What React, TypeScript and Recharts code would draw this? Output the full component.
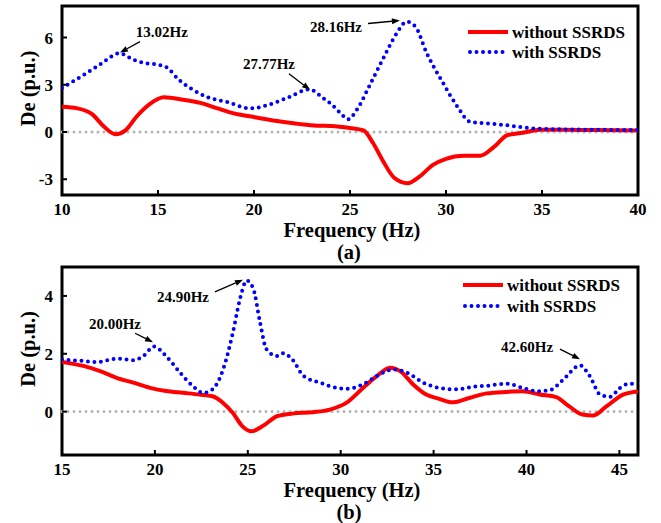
import React from 'react';
import { LineChart, Line, XAxis, YAxis, ReferenceLine, ReferenceArea, ReferenceDot } from 'recharts';

const FONT = '"Liberation Serif", "Times New Roman", Times, serif';

// ---- Panel (a) data ----
const aRedFreq = [10, 10.8, 11.6, 12.1, 12.8, 13.3, 13.9, 14.6, 15.3, 16.3, 17.2, 18.1, 18.9, 20, 21.2, 22.4, 23.3, 24, 25, 25.7, 26.2, 26.7, 27.3, 28, 28.6, 29.3, 30, 30.9, 31.8, 32.5, 33.2, 34, 34.9, 36.1, 37.9, 40];
const aRedDe = [1.6, 1.5, 1.1, 0.45, -0.15, 0.1, 1.0, 1.8, 2.2, 2.05, 1.85, 1.5, 1.2, 0.95, 0.7, 0.5, 0.4, 0.38, 0.25, 0.1, -0.7, -1.8, -2.9, -3.25, -2.85, -2.1, -1.7, -1.5, -1.5, -0.95, -0.2, -0.05, 0.15, 0.15, 0.12, 0.1];
const aBlueFreq = [10, 11.1, 12, 13, 13.7, 14.2, 14.9, 15.45, 16.1, 16.8, 17.5, 18.6, 19.8, 20.7, 21.7, 22.9, 23.6, 24, 24.5, 24.9, 25.35, 26, 26.7, 27.4, 27.95, 28.4, 29, 29.85, 30.6, 31.25, 32.1, 33, 34, 34.9, 40];
const aBlueDe = [2.8, 3.6, 4.3, 5.0, 4.6, 4.4, 4.3, 4.1, 3.3, 2.7, 2.25, 1.9, 1.5, 1.7, 2.15, 2.7, 2.15, 1.8, 1.2, 0.8, 1.4, 2.9, 4.6, 6.2, 7.0, 6.7, 5.0, 3.1, 1.6, 0.65, 0.55, 0.45, 0.3, 0.2, 0.12];
const aXTicks = [10, 15, 20, 25, 30, 35, 40];
const aYTicks = [-3, 0, 3, 6];
const aXDomain = [10, 40];
const aYDomain = [-4, 8];
const aNotes = [
  { text: '13.02Hz', tx: 15.2, ty: 6.32, fx: 14.06, fy: 5.74, ex: 13.02, ey: 5.04 },
  { text: '27.77Hz', tx: 20.78, ty: 4.34, fx: 21.82, fy: 3.7, ex: 22.92, ey: 2.68 },
  { text: '28.16Hz', tx: 24.27, ty: 6.64, fx: 25.94, fy: 6.89, ex: 27.6, ey: 7.08 },
];

// ---- Panel (b) data ----
const bRedFreq = [15, 16.15, 17.05, 17.94, 18.84, 19.74, 20.6, 21.5, 22.4, 23.1, 23.67, 24.2, 24.7, 25.2, 25.8, 26.57, 27.4, 28.5, 29.42, 30.3, 31.2, 31.94, 32.65, 33.2, 33.9, 34.6, 35.3, 36.0, 36.96, 37.86, 38.9, 39.8, 40.7, 41.6, 42.3, 43.0, 43.6, 44.3, 45.2, 46];
const bRedDe = [1.72, 1.58, 1.4, 1.17, 1.0, 0.82, 0.71, 0.65, 0.59, 0.53, 0.3, -0.05, -0.5, -0.68, -0.5, -0.16, -0.07, -0.02, 0.07, 0.3, 0.82, 1.23, 1.52, 1.4, 0.94, 0.59, 0.44, 0.32, 0.48, 0.63, 0.68, 0.7, 0.59, 0.5, 0.18, -0.1, -0.13, 0.18, 0.59, 0.7];
const bBlueFreq = [15, 16.15, 16.87, 17.94, 18.84, 19.38, 19.95, 20.6, 21.35, 22.05, 22.6, 23.1, 23.67, 24.2, 24.58, 24.94, 25.3, 25.66, 26.0, 26.57, 26.9, 27.4, 28.0, 28.9, 29.42, 30.3, 31.2, 31.94, 32.83, 33.55, 34.45, 35.3, 36.2, 37.14, 38.0, 38.9, 39.8, 40.55, 41.26, 41.98, 42.88, 43.4, 43.96, 44.5, 45.03, 45.57, 46];
const bBlueDe = [1.8, 1.75, 1.71, 1.83, 1.78, 1.92, 2.25, 1.92, 1.35, 0.88, 0.65, 0.77, 1.46, 2.74, 3.9, 4.53, 4.24, 3.08, 2.16, 1.92, 2.02, 1.8, 1.23, 1.0, 0.88, 0.79, 0.94, 1.23, 1.46, 1.35, 1.0, 0.82, 0.77, 0.86, 0.9, 0.97, 0.82, 0.7, 0.74, 1.11, 1.6, 1.23, 0.59, 0.51, 0.82, 0.97, 0.94];
const bXTicks = [15, 20, 25, 30, 35, 40, 45];
const bYTicks = [0, 2, 4];
const bXDomain = [15, 46];
const bYDomain = [-1.5, 5];
const bNotes = [
  { text: '20.00Hz', tx: 17.85, ty: 3.03, fx: 18.93, fy: 2.71, ex: 19.9, ey: 2.4 },
  { text: '24.90Hz', tx: 21.51, ty: 3.97, fx: 23.23, fy: 4.14, ex: 24.74, ey: 4.56 },
  { text: '42.60Hz', tx: 40.03, ty: 2.23, fx: 41.8, fy: 2.16, ex: 42.88, ey: 1.81 },
];

const seriesNames = ['without SSRDS', 'with SSRDS'];

const zip = (xs: number[], ys: number[]) => xs.map((f, i) => ({ f, v: ys[i] }));

const Arrow = (p: any) => {
  const { x1, y1, x2, y2 } = p;
  const dx = x2 - x1;
  const dy = y2 - y1;
  const len = Math.sqrt(dx * dx + dy * dy) || 1;
  const ux = dx / len;
  const uy = dy / len;
  const hl = 8;
  const hw = 3;
  const bx = x2 - ux * hl;
  const by = y2 - uy * hl;
  return (
    <g>
      <line x1={x1} y1={y1} x2={bx} y2={by} stroke="#000" strokeWidth={1.3} />
      <polygon
        points={`${x2},${y2} ${bx - uy * hw},${by + ux * hw} ${bx + uy * hw},${by - ux * hw}`}
        fill="#000"
      />
    </g>
  );
};

const tickStyle = { fontSize: 17, fontWeight: 'bold', fontFamily: FONT, fill: '#000' };
const titleStyle = { fontSize: 20.5, fontWeight: 'bold', fontFamily: FONT } as React.CSSProperties;

function Panel(props: any) {
  const { height, top, redF, redV, blueF, blueV, xTicks, yTicks, xDomain, yDomain, notes, sub, legendY } = props;
  const plotBottom = 195;
  const xAxisH = 30;
  const red = zip(redF, redV);
  const blue = zip(blueF, blueV);
  const plotMid = (top + plotBottom) / 2;
  return (
    <div style={{ position: 'relative', width: 661, height }}>
      <LineChart
        width={661}
        height={height}
        margin={{ top, right: 23, bottom: height - plotBottom - xAxisH, left: 22 }}
      >
        <XAxis
          type="number"
          dataKey="f"
          domain={xDomain}
          ticks={xTicks}
          allowDataOverflow
          height={xAxisH}
          axisLine={false}
          tickLine={{ stroke: '#000', strokeWidth: 2 }}
          tickSize={-5}
          tickMargin={13}
          tick={tickStyle}
          interval={0}
          label={() => (
            <text x={352} y={plotBottom + 42} textAnchor="middle" style={titleStyle} fill="#000">
              Frequency (Hz)
            </text>
          )}
        />
        <YAxis
          type="number"
          domain={yDomain}
          ticks={yTicks}
          allowDataOverflow
          width={40}
          axisLine={false}
          tickLine={{ stroke: '#000', strokeWidth: 2 }}
          tickSize={-5}
          tickMargin={14}
          tick={tickStyle}
          interval={0}
          label={() => (
            <text
              x={35}
              y={plotMid - 12}
              transform={`rotate(-90 35 ${plotMid - 12})`}
              textAnchor="middle"
              style={titleStyle}
              fill="#000"
            >
              De (p.u.)
            </text>
          )}
        />
        <ReferenceLine y={0} stroke="#b5b5b5" strokeWidth={3} strokeDasharray="0 6" strokeLinecap="round" />
        <Line
          data={red}
          dataKey="v"
          type="monotone"
          stroke="#ff0000"
          strokeWidth={4}
          dot={false}
          activeDot={false}
          isAnimationActive={false}
        />
        <Line
          data={blue}
          dataKey="v"
          type="monotone"
          stroke="#0000ff"
          strokeWidth={4}
          strokeDasharray="0 6.5"
          strokeLinecap="round"
          dot={false}
          activeDot={false}
          isAnimationActive={false}
        />
        {notes.map((n: any, i: number) => (
          <ReferenceLine
            key={'a' + i}
            segment={[{ x: n.fx, y: n.fy }, { x: n.ex, y: n.ey }]}
            shape={Arrow}
            ifOverflow="visible"
          />
        ))}
        {notes.map((n: any, i: number) => (
          <ReferenceDot
            key={'t' + i}
            x={n.tx}
            y={n.ty}
            r={0}
            ifOverflow="visible"
            shape={(p: any) => (
              <text
                x={p.cx}
                y={p.cy}
                textAnchor="middle"
                dominantBaseline="central"
                style={{ fontSize: 15, fontWeight: 'bold', fontFamily: FONT }}
                fill="#000"
              >
                {n.text}
              </text>
            )}
          />
        ))}
        <ReferenceArea
          x1={xDomain[0]}
          x2={xDomain[1]}
          y1={yDomain[0]}
          y2={yDomain[1]}
          fill="none"
          fillOpacity={0}
          stroke="#000"
          strokeWidth={3}
          ifOverflow="visible"
        />
      </LineChart>
      <svg
        width={661}
        height={height}
        style={{ position: 'absolute', left: 0, top: 0, pointerEvents: 'none', overflow: 'visible' }}
      >
        <text x={349} y={plotBottom + 64} textAnchor="middle" style={titleStyle} fill="#000">
          {sub}
        </text>
        <line x1={legendY.lx1} x2={legendY.lx2} y1={legendY.y1} y2={legendY.y1} stroke="#ff0000" strokeWidth={4} />
        <text x={legendY.lx2 + 4} y={legendY.y1} dominantBaseline="central" style={{ fontSize: 17, fontWeight: 'bold', fontFamily: FONT }} fill="#000">
          {seriesNames[0]}
        </text>
        <line x1={legendY.lx1 + 2} x2={legendY.lx2} y1={legendY.y2} y2={legendY.y2} stroke="#0000ff" strokeWidth={4} strokeDasharray="0 6.5" strokeLinecap="round" />
        <text x={legendY.lx2 + 4} y={legendY.y2} dominantBaseline="central" style={{ fontSize: 17, fontWeight: 'bold', fontFamily: FONT }} fill="#000">
          {seriesNames[1]}
        </text>
      </svg>
    </div>
  );
}

export default function App() {
  return (
    <div style={{ position: 'absolute', left: 0, top: 0, width: 661, height: 523, background: '#fff' }}>
      <Panel
        height={260}
        top={6}
        redF={aRedFreq}
        redV={aRedDe}
        blueF={aBlueFreq}
        blueV={aBlueDe}
        xTicks={aXTicks}
        yTicks={aYTicks}
        xDomain={aXDomain}
        yDomain={aYDomain}
        notes={aNotes}
        sub="(a)"
        legendY={{ lx1: 468, lx2: 508, y1: 32, y2: 52 }}
      />
      <Panel
        height={263}
        top={7}
        redF={bRedFreq}
        redV={bRedDe}
        blueF={bBlueFreq}
        blueV={bBlueDe}
        xTicks={bXTicks}
        yTicks={bYTicks}
        xDomain={bXDomain}
        yDomain={bYDomain}
        notes={bNotes}
        sub="(b)"
        legendY={{ lx1: 463, lx2: 503, y1: 25, y2: 46 }}
      />
    </div>
  );
}
